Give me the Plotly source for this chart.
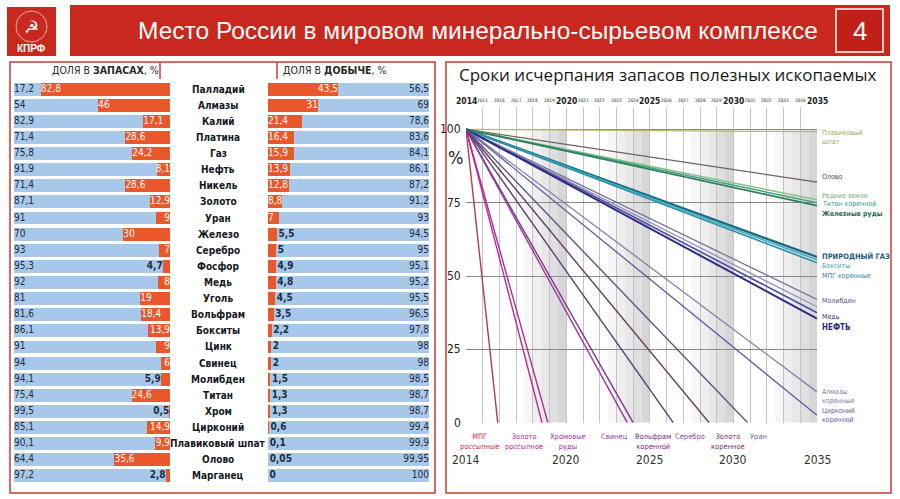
import plotly.graph_objects as go

# ---------------- DATA ----------------
minerals = ["Палладий", "Алмазы", "Калий", "Платина", "Газ", "Нефть", "Никель", "Золото",
            "Уран", "Железо", "Серебро", "Фосфор", "Медь", "Уголь", "Вольфрам", "Бокситы",
            "Цинк", "Свинец", "Молибден", "Титан", "Хром", "Цирконий", "Плавиковый шпат",
            "Олово", "Марганец"]
reserve_world = [17.2, 54, 82.9, 71.4, 75.8, 91.9, 71.4, 87.1, 91, 70, 93, 95.3, 92, 81,
                 81.6, 86.1, 91, 94, 94.1, 75.4, 99.5, 85.1, 90.1, 64.4, 97.2]
reserve_russia = [82.8, 46, 17.1, 28.6, 24.2, 8.1, 28.6, 12.9, 9, 30, 7, 4.7, 8, 19,
                  18.4, 13.9, 9, 6, 5.9, 24.6, 0.5, 14.9, 9.9, 35.6, 2.8]
output_russia = [43.5, 31, 21.4, 16.4, 15.9, 13.9, 12.8, 8.8, 7, 5.5, 5, 4.9, 4.8, 4.5,
                 3.5, 2.2, 2, 2, 1.5, 1.3, 1.3, 0.6, 0.1, 0.05, 0]
output_world = [56.5, 69, 78.6, 83.6, 84.1, 86.1, 87.2, 91.2, 93, 94.5, 95, 95.1, 95.2, 95.5,
                96.5, 97.8, 98, 98, 98.5, 98.7, 98.7, 99.4, 99.9, 99.95, 100]

years = list(range(2014, 2036))
major_years = [2014, 2020, 2025, 2030, 2035]

# depletion lines still above zero in 2035 (remaining % in 2035)
end_values = [99.2, 82.0, 76.0, 75.0, 74.0, 56.5, 55.5, 54.5, 42.0, 39.5, 37.5, 35.5, 10.5, 2.5]
# depletion lines reaching zero (year of exhaustion)
zero_names = ["МПГ россыпные", "Золото россыпное", "Хромовые руды", "Свинец",
              "Вольфрам коренной", "Серебро", "Золото коренное", "Уран"]
zero_years = [2015.9, 2018.55, 2018.9, 2023.65, 2024.0, 2026.4, 2028.55, 2030.85]

right_labels = ["Плавиковый<br>шпат", "Олово", "Редкие земли", "Титан коренной",
                "<b>Железные руды</b>", "<b>ПРИРОДНЫЙ ГАЗ</b>", "Бокситы", "МПГ коренные",
                "Молибден", "Медь", "<b>НЕФТЬ</b>", "Алмазы<br>коренные", "Цирконий<br>коренной"]

# ---------------- STYLE ----------------
W, H = 900, 499
def px(x): return x / W
def py(y): return 1 - y / H

NARROW = "Liberation Sans Narrow, DejaVu Sans Condensed, Arial Narrow, sans-serif"
BLUE = "#a7c8e9"
ORANGE = "#e8582a"
DARK = "#1c2c44"
RED = "#c8281d"

end_colors = ["#b8b86a", "#6e625e", "#8cc084", "#3fa08a", "#2e7d5a", "#1d6a80", "#3ab0c0",
              "#2f8fa8", "#74749c", "#8e8eb8", "#50509a", "#2c2c88", "#8080ac", "#5c5ca0"]
end_widths = [1.3, 1.3, 1.5, 1.5, 1.8, 2.4, 1.6, 1.6, 1.3, 1.2, 1.6, 2.0, 1.3, 1.3]
zero_colors = ["#b03a5e", "#b8308a", "#a8309e", "#9a3aa0", "#803a88", "#5e4070", "#623c64",
               "#58587e"]
zero_label_colors = ["#c0304a", "#b0308a", "#9c2f9c", "#8f3aa0", "#7a2a7c", "#8a4aa6",
                     "#7a2f74", "#7a5aaa"]
zero_anchor = ["right", "right", "left", "right", "left", "left", "left", "left"]
right_label_y = [97.3, 83.7, 77.2, 74.4, 71.3, 56.8, 53.4, 50.0, 41.4, 36.0, 32.6, 9.1, 2.3]
right_label_colors = ["#a8a850", "#4a4a4a", "#74ac6c", "#2f9a8a", "#1f6a4a", "#1f5a7a",
                      "#3aa0b8", "#2a7fa0", "#50508a", "#3a3a7a", "#2a2a7a", "#7a7aa8", "#5a5a9a"]
right_label_sizes = [7, 7, 7, 7, 7, 7.5, 7, 7, 7, 7, 8, 7, 7]


def fmt(v):
    return f"{v:g}".replace(".", ",")


n = len(minerals)
idx = list(range(n))
fig = go.Figure()

# ---- left bars (reserves) ----
fig.add_trace(go.Bar(y=idx, x=reserve_world, base=[0] * n, orientation="h", width=0.8,
                     marker=dict(color=BLUE, line=dict(width=0)), xaxis="x", yaxis="y",
                     hoverinfo="skip", showlegend=False))
fig.add_trace(go.Bar(y=idx, x=reserve_russia, base=reserve_world, orientation="h", width=0.8,
                     marker=dict(color=ORANGE, line=dict(width=0)), xaxis="x", yaxis="y",
                     hoverinfo="skip", showlegend=False))
# ---- right bars (production) ----
fig.add_trace(go.Bar(y=idx, x=output_russia, base=[0] * n, orientation="h", width=0.8,
                     marker=dict(color=ORANGE, line=dict(width=0)), xaxis="x2", yaxis="y2",
                     hoverinfo="skip", showlegend=False))
fig.add_trace(go.Bar(y=idx, x=output_world, base=output_russia, orientation="h", width=0.8,
                     marker=dict(color=BLUE, line=dict(width=0)), xaxis="x2", yaxis="y2",
                     hoverinfo="skip", showlegend=False))


def text_trace(xs, ys, texts, pos, color, axis, bold=False):
    if not xs:
        return
    fig.add_trace(go.Scatter(x=xs, y=ys, text=[("<b>%s</b>" % t) if bold else t for t in texts],
                             mode="text", textposition=pos,
                             textfont=dict(family=NARROW, size=10, color=color),
                             xaxis="x" + axis, yaxis="y" + axis, cliponaxis=False,
                             hoverinfo="skip", showlegend=False))

# left labels
text_trace([0] * n, idx, [fmt(v) for v in reserve_world], "middle right", DARK, "")
g_start = [i for i in idx if reserve_russia[i] >= 15]
g_end = [i for i in idx if 6 <= reserve_russia[i] < 15]
g_out = [i for i in idx if reserve_russia[i] < 6]
text_trace([reserve_world[i] for i in g_start], g_start, [fmt(reserve_russia[i]) for i in g_start],
           "middle right", "white", "")
text_trace([100] * len(g_end), g_end, [fmt(reserve_russia[i]) for i in g_end],
           "middle left", "white", "")
text_trace([reserve_world[i] for i in g_out], g_out, [fmt(reserve_russia[i]) for i in g_out],
           "middle left", DARK, "", bold=True)

# right labels
text_trace([100] * n, idx, [fmt(v) for v in output_world], "middle left", DARK, "2")
r_end = [i for i in idx if output_russia[i] >= 25]
r_start = [i for i in idx if 6.5 <= output_russia[i] < 25]
r_out = [i for i in idx if output_russia[i] < 6.5]
text_trace([output_russia[i] for i in r_end], r_end, [fmt(output_russia[i]) for i in r_end],
           "middle left", "white", "2")
text_trace([0] * len(r_start), r_start, [fmt(output_russia[i]) for i in r_start],
           "middle right", "white", "2")
text_trace([output_russia[i] + 1 for i in r_out], r_out, [fmt(output_russia[i]) for i in r_out],
           "middle right", DARK, "2", bold=True)

# ---- depletion lines ----
for v, c, w in zip(end_values, end_colors, end_widths):
    fig.add_trace(go.Scatter(x=[2014, 2035], y=[100, v], mode="lines",
                             line=dict(color=c, width=w), xaxis="x3", yaxis="y3",
                             hoverinfo="skip", showlegend=False))
for yr, c in zip(zero_years, zero_colors):
    fig.add_trace(go.Scatter(x=[2014, yr], y=[100, 0], mode="lines",
                             line=dict(color=c, width=1.4), xaxis="x3", yaxis="y3",
                             hoverinfo="skip", showlegend=False))

annotations = []
shapes = []


def note(x, y, text, size, color, family=NARROW, xanchor="center", yanchor="middle",
         xref="paper", yref="paper", **kw):
    annotations.append(dict(x=x, y=y, xref=xref, yref=yref, text=text, showarrow=False,
                            xanchor=xanchor, yanchor=yanchor,
                            font=dict(family=family, size=size, color=color), **kw))

# category names
for i, name in enumerate(minerals):
    note(px(218), i, "<b>%s</b>" % name, 10, "#15181f", yref="y")

# bar panel headers
note(px(105), py(70), "ДОЛЯ В <b>ЗАПАСАХ</b>, %", 10.5, "#2a2a2a")
note(px(334), py(70), "ДОЛЯ В <b>ДОБЫЧЕ</b>, %", 10.5, "#2a2a2a")

# panel borders
BORDER = "#cc3b35"
shapes.append(dict(type="rect", xref="paper", yref="paper", x0=px(10), x1=px(435),
                   y0=py(493), y1=py(62), line=dict(color=BORDER, width=1.5)))
for xx in (160, 277):
    shapes.append(dict(type="line", xref="paper", yref="paper", x0=px(xx), x1=px(xx),
                       y0=py(62), y1=py(79), line=dict(color=BORDER, width=1.5)))
shapes.append(dict(type="rect", xref="paper", yref="paper", x0=px(446), x1=px(891),
                   y0=py(493), y1=py(62), line=dict(color=BORDER, width=1.5)))

# header
shapes.append(dict(type="rect", xref="paper", yref="paper", x0=px(70), x1=px(890),
                   y0=py(56), y1=py(5), fillcolor=RED, line=dict(width=0)))
shapes.append(dict(type="rect", xref="paper", yref="paper", x0=px(7), x1=px(56),
                   y0=py(56), y1=py(7), fillcolor=RED, line=dict(width=0)))
shapes.append(dict(type="circle", xref="paper", yref="paper", x0=px(16), x1=px(47),
                   y0=py(42), y1=py(11), line=dict(color="#f0b0a0", width=1)))
shapes.append(dict(type="rect", xref="paper", yref="paper", x0=px(836), x1=px(883),
                   y0=py(52), y1=py(9), fillcolor="#c02018",
                   line=dict(color="#f6c8c0", width=2)))
note(px(31.5), py(27), "☭", 17, "white", family="DejaVu Sans")
note(px(31.5), py(49), "<b>КПРФ</b>", 10, "white", family="Liberation Sans")
note(px(478), py(31), "Место России в мировом минерально-сырьевом комплексе", 24.5, "white",
     family="Liberation Sans")
note(px(859.5), py(31), "4", 26, "white", family="Liberation Sans")

# right panel title
note(px(668), py(74), "Сроки исчерпания запасов полезных ископаемых", 17, "#1a1a1a",
     family="Open Sans")

# shading bands
greys = ["#f6f6f6", "#efefef", "#e7e7e7", "#dfdfdf", "#d6d6d6"]
for end_year in (2020, 2025, 2030, 2035):
    for k, g in enumerate(greys):
        shapes.append(dict(type="rect", xref="x3", yref="y3", x0=end_year - 2.5 + 0.5 * k,
                           x1=end_year - 2.0 + 0.5 * k, y0=0, y1=100, fillcolor=g,
                           line=dict(width=0), layer="below"))

# top year labels
for yr in years:
    big = yr in major_years
    note(yr, py(101), ("<b>%d</b>" % yr) if big else str(yr), 8.5 if big else 4.6, "#222",
         xref="x3")
# bottom year labels
for yr in major_years:
    note(yr, py(460), str(yr), 12, "#333", xref="x3")
# y labels
for v in (0, 25, 50, 75, 100):
    note(px(463), v, str(v), 12, "#222", xanchor="right", yref="y3")
note(px(455), py(157), "%", 18, "#222")

# right-side line labels
for t, yv, c, s in zip(right_labels, right_label_y, right_label_colors, right_label_sizes):
    note(2035, yv, t, s, c, xanchor="left", xref="x3", yref="y3", xshift=3, align="left")
# bottom line labels
for name, yr, c, a in zip(zero_names, zero_years, zero_label_colors, zero_anchor):
    note(yr, py(430), name.replace(" ", "<br>", 1), 7.5, c, xanchor=a, yanchor="top",
         xref="x3", align="center", xshift=3 if a == "right" else 0)

ydom = [py(484), py(81)]
fig.update_layout(
    width=W, height=H, margin=dict(l=0, r=0, t=0, b=0),
    paper_bgcolor="white", plot_bgcolor="rgba(0,0,0,0)",
    barmode="overlay", bargap=0,
    xaxis=dict(domain=[px(14), px(170)], range=[0, 100], visible=False, fixedrange=True),
    yaxis=dict(domain=ydom, range=[n - 0.5, -0.5], visible=False, fixedrange=True),
    xaxis2=dict(domain=[px(268), px(429)], range=[0, 100], visible=False, anchor="y2"),
    yaxis2=dict(domain=ydom, range=[n - 0.5, -0.5], visible=False, anchor="x2"),
    xaxis3=dict(domain=[px(466), px(817)], range=[2014, 2035], anchor="y3",
                showgrid=True, gridcolor="#c4c4c4", gridwidth=1, dtick=1, tick0=2014,
                showticklabels=False, ticks="", zeroline=False, showline=False),
    yaxis3=dict(domain=[py(422.7), py(107.3)], range=[0, 107.5], anchor="x3",
                showgrid=True, gridcolor="#8a8a8a", gridwidth=1,
                tickvals=[0, 25, 50, 75, 100], showticklabels=False, ticks="",
                zeroline=False, showline=False),
    shapes=shapes, annotations=annotations,
)

fig.write_html("out.html", config={"displayModeBar": False},
               post_script="document.body.style.margin='0';document.body.style.overflow='hidden';")
